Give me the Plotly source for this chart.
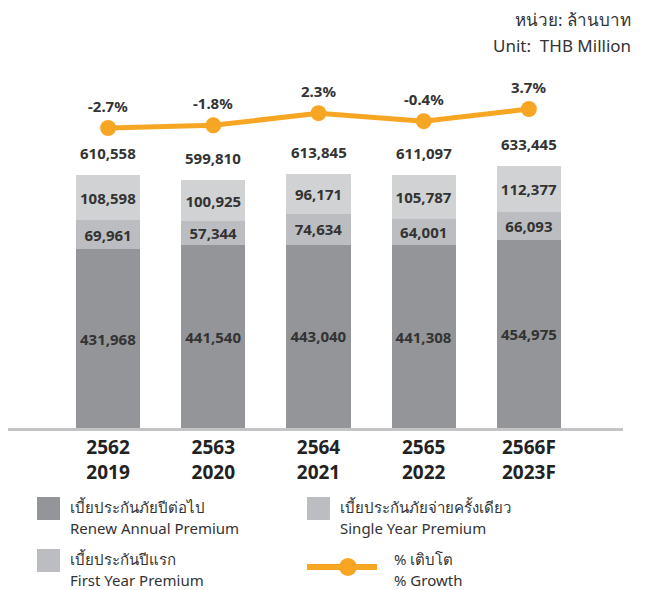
import plotly.graph_objects as go

years_th = ["2562", "2563", "2564", "2565", "2566F"]
years_en = ["2019", "2020", "2021", "2022", "2023F"]
renew = [431968, 441540, 443040, 441308, 454975]
single = [69961, 57344, 74634, 64001, 66093]
first_year = [108598, 100925, 96171, 105787, 112377]
totals = [610558, 599810, 613845, 611097, 633445]
growth = [-2.7, -1.8, 2.3, -0.4, 3.7]

cats = [f"{a}<br>{b}" for a, b in zip(years_th, years_en)]
xs = list(range(len(cats)))

FONT = "Noto Sans"
TXT = "#333333"
C_RENEW = "#939598"
C_SINGLE = "#bcbdc0"
C_FIRST = "#d1d2d4"
C_LINE = "#f6a623"

# the page adds an 8px body margin; work in screen coords and subtract it
OFF = 8
W, H = 647 - OFF, 590 - OFF
ml = 0
pw = (623 - OFF) - ml
mr = W - ml - pw
mt = 60 - OFF
mb = H - (428 - OFF)
ph = H - mt - mb

spacing = 105.1
x_left = -((108 - 8) / spacing)
x_right = 4 + (623 - 529) / spacing

fig = go.Figure()

def fmt(v):
    return f"{v:,}"

for vals, col in [(renew, C_RENEW), (single, C_SINGLE), (first_year, C_FIRST)]:
    fig.add_trace(go.Bar(
        x=xs, y=vals, marker=dict(color=col, line=dict(width=0)),
        width=0.61, text=[fmt(v) for v in vals], textposition="inside",
        insidetextanchor="middle", constraintext="none",
        textfont=dict(family=FONT, size=15, color=TXT, weight="bold"),
        showlegend=False, hoverinfo="skip"))

fig.add_trace(go.Scatter(
    x=xs, y=growth, yaxis="y2", mode="lines+markers",
    line=dict(color=C_LINE, width=5), marker=dict(size=16, color=C_LINE),
    showlegend=False, hoverinfo="skip"))

def px(xs_screen):
    return (xs_screen - OFF - ml) / pw

def py(ys_screen):
    return (H - mb - (ys_screen - OFF)) / ph

annotations = []
for x, t in zip(xs, totals):
    annotations.append(dict(x=x, y=t, xref="x", yref="y", text=f"<b>{fmt(t)}</b>",
                            showarrow=False, yanchor="middle", yshift=22,
                            font=dict(family=FONT, size=15, color=TXT)))
for x, g in zip(xs, growth):
    annotations.append(dict(x=x, y=g, xref="x", yref="y2", text=f"<b>{g:.1f}%</b>",
                            showarrow=False, yanchor="middle", yshift=22,
                            font=dict(family=FONT, size=15, color=TXT)))

annotations.append(dict(x=px(633), y=py(20), xref="paper", yref="paper", text="หน่วย: ล้านบาท",
                        showarrow=False, xanchor="right", yanchor="middle",
                        font=dict(family=FONT, size=17, color=TXT)))
annotations.append(dict(x=px(633), y=py(46), xref="paper", yref="paper", text="Unit:  THB Million",
                        showarrow=False, xanchor="right", yanchor="middle",
                        font=dict(family=FONT, size=17, color=TXT)))

shapes = []
legend_items = [
    (37, 497, C_RENEW, "เบี้ยประกันภัยปีต่อไป", "Renew Annual Premium", "box"),
    (307, 497, C_SINGLE, "เบี้ยประกันภัยจ่ายครั้งเดียว", "Single Year Premium", "box"),
    (37, 549, C_SINGLE, "เบี้ยประกันปีแรก", "First Year Premium", "box"),
    (307, 549, C_LINE, "% เติบโต", "% Growth", "line"),
]
for lx, ly, col, t1, t2, kind in legend_items:
    if kind == "box":
        shapes.append(dict(type="rect", xref="paper", yref="paper",
                           x0=px(lx), x1=px(lx + 23), y0=py(ly), y1=py(ly + 23),
                           fillcolor=col, line=dict(width=0)))
        tx = lx + 31
    else:
        shapes.append(dict(type="line", xref="paper", yref="paper",
                           x0=px(lx), x1=px(lx + 70), y0=py(ly + 18), y1=py(ly + 18),
                           line=dict(color=col, width=6)))
        shapes.append(dict(type="circle", xref="paper", yref="paper",
                           x0=px(lx + 32), x1=px(lx + 50), y0=py(ly + 9), y1=py(ly + 27),
                           fillcolor=col, line=dict(width=0)))
        tx = lx + 85
    annotations.append(dict(x=px(tx), y=py(ly + 10), xref="paper", yref="paper", text=t1,
                            showarrow=False, xanchor="left", yanchor="middle",
                            font=dict(family=FONT, size=15, color=TXT)))
    annotations.append(dict(x=px(tx), y=py(ly + 31), xref="paper", yref="paper", text=t2,
                            showarrow=False, xanchor="left", yanchor="middle",
                            font=dict(family=FONT, size=15, color=TXT)))

fig.update_layout(
    width=W, height=H, margin=dict(l=ml, r=mr, t=mt, b=mb),
    barmode="stack", plot_bgcolor="white", paper_bgcolor="white",
    font=dict(family=FONT, color=TXT),
    xaxis=dict(range=[x_left, x_right], tickmode="array", tickvals=xs,
               ticktext=[f"<b>{c}</b>" for c in cats],
               tickfont=dict(family=FONT, size=19, color="#222222"),
               showline=True, linecolor="#c4c4c6", linewidth=3, showgrid=False, zeroline=False,
               ticks="", ticklabelstandoff=0),
    yaxis=dict(range=[0, 888900], visible=False, showgrid=False, zeroline=False),
    yaxis2=dict(range=[-103.7, 20.2], overlaying="y", visible=False, showgrid=False, zeroline=False),
    annotations=annotations, shapes=shapes,
)

fig.write_html("out.html")
